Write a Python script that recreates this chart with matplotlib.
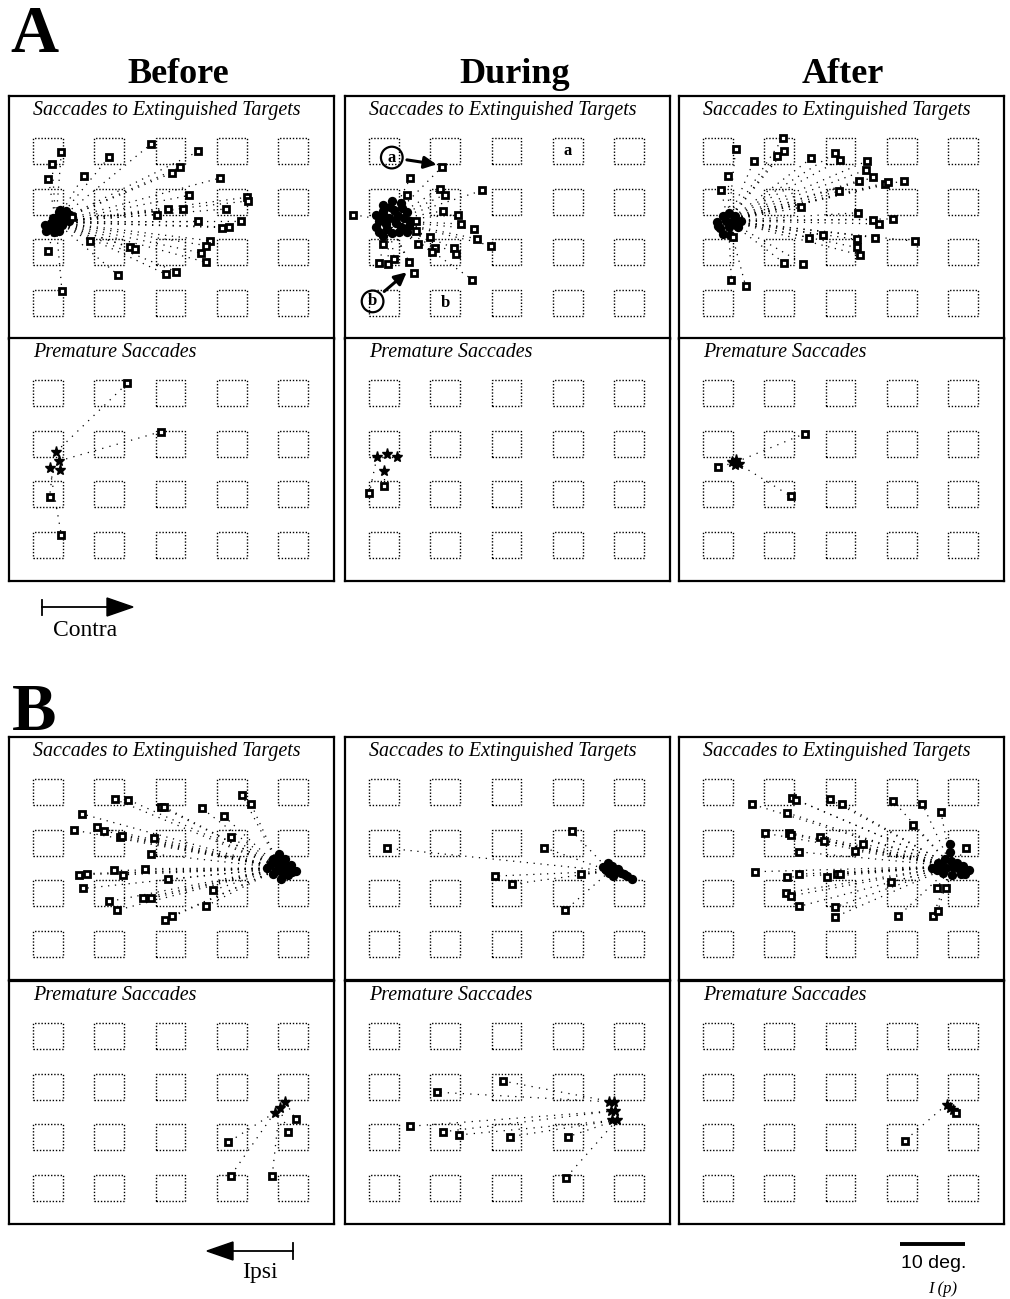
import matplotlib.pyplot as plt
from matplotlib.patches import Rectangle, Circle, Polygon

plt.rcParams["font.family"] = ["Liberation Serif", "DejaVu Serif"]

W, H = 1010, 1299
PX = 6.2          # pixels per degree inside a panel
PW, PH = 325, 243  # panel size in pixels

columns = ["Before", "During", "After"]
target_x = [-19.8, -9.9, 0.0, 9.9, 19.8]
target_y = [12.3, 4.1, -4.1, -12.3]
target_w, target_h = 4.8, 4.2

# ---------------- A : saccades to extinguished targets (deg) ----------------
a_ext_before_fix = (-18.5, 0.8)
a_ext_before_blob = [(-19.8, 0.2), (-19.0, 1.5), (-18.0, 2.5), (-17.0, 1.8), (-16.3, 1.0),
                     (-18.5, 0.0), (-17.5, 0.3), (-20.0, -0.6), (-18.8, -0.8), (-17.8, 2.8),
                     (-16.2, 2.0), (-19.2, 0.7), (-18.2, 1.3), (-17.2, 0.9), (-20.3, 0.4),
                     (-18.0, -0.6), (-16.8, 2.6), (-19.4, -0.2)]
a_ext_before_end = [(-17.6, 12.1), (-19.1, 10.1), (-19.7, 7.8), (-14.0, 8.3), (-9.9, 11.3),
                    (-3.1, 13.4), (4.5, 12.2), (1.5, 9.6), (0.2, 8.7), (8.0, 7.9),
                    (12.4, 4.8), (12.5, 4.2), (3.0, 5.1), (2.0, 2.9), (-0.4, 2.9),
                    (-2.2, 2.0), (9.0, 2.9), (4.4, 0.9), (8.3, -0.1), (9.4, 0.0),
                    (11.3, 0.9), (6.3, -2.2), (5.8, -3.0), (5.0, -4.2), (5.8, -5.7),
                    (0.9, -7.2), (-0.8, -7.6), (-6.6, -3.3), (-5.8, -3.5), (-13.0, -2.2),
                    (-8.4, -7.8), (-19.7, -3.8), (-17.5, -10.4), (-15.9, 1.6)]

a_ext_during_fix = (-19.0, 1.0)
a_ext_during_blob = [(-21.0, 2.0), (-20.0, 3.5), (-18.5, 4.2), (-17.0, 3.8), (-16.0, 2.5),
                     (-15.5, 1.0), (-17.0, 0.0), (-18.5, -1.0), (-20.0, -1.5), (-21.0, 0.0),
                     (-19.0, 1.5), (-17.5, 1.8), (-19.5, 0.5), (-16.0, -0.8), (-20.5, 1.0),
                     (-18.2, 2.8), (-16.6, 1.5), (-19.3, -0.4), (-17.8, 0.6), (-20.0, 2.6),
                     (-18.8, 3.3), (-16.8, 3.0), (-18.0, 1.2), (-19.8, 1.8), (-17.4, -0.8),
                     (-20.6, -0.8), (-15.8, 0.2)]
a_ext_during_end = [(-10.4, 9.7), (-15.5, 7.9), (-16.1, 5.1), (-10.7, 6.2), (-10.0, 5.2),
                    (-3.9, 5.9), (-10.3, 2.6), (-7.9, 2.0), (-24.7, 2.0), (-14.6, 0.9),
                    (-7.3, 0.5), (-5.2, -0.3), (-14.6, -0.6), (-4.8, -1.9), (-2.5, -3.0),
                    (-12.3, -1.6), (-14.3, -2.8), (-11.5, -3.4), (-8.5, -3.4), (-8.1, -4.4),
                    (-12.0, -4.1), (-19.9, -2.8), (-20.5, -5.8), (-19.1, -5.9), (-18.1, -5.2),
                    (-15.7, -5.6), (-15.0, -7.4), (-5.5, -8.5)]

a_ext_after_fix = (-18.1, 1.0)
a_ext_after_blob = [(-20.0, 0.8), (-19.0, 1.8), (-18.0, 2.3), (-17.0, 1.8), (-16.0, 1.0),
                    (-16.5, 0.0), (-18.0, 0.0), (-19.5, -0.2), (-19.0, -1.2), (-17.8, -1.3),
                    (-18.5, 1.0), (-17.3, 0.9), (-19.8, 0.2), (-16.8, 0.4)]
a_ext_after_end = [(-16.9, 12.6), (-9.3, 14.3), (-9.1, 12.3), (-10.2, 11.4), (-14.0, 10.6),
                   (-18.1, 8.2), (-19.3, 6.0), (-4.7, 11.1), (-0.9, 11.9), (-0.1, 10.8),
                   (4.2, 10.6), (4.1, 9.2), (5.3, 8.0), (3.0, 7.5), (7.1, 6.9),
                   (7.6, 7.2), (10.3, 7.5), (-0.2, 5.8), (-6.3, 3.2), (2.8, 2.3),
                   (5.2, 1.2), (6.2, 0.5), (8.5, 1.3), (5.5, -1.7), (12.0, -2.3),
                   (2.6, -2.0), (2.6, -3.3), (3.1, -4.5), (-2.8, -1.3), (-5.1, -1.7),
                   (-9.1, -5.8), (-6.0, -5.9), (-17.6, -8.5), (-15.3, -9.5), (-17.4, -1.6)]

# ---------------- A : premature saccades ----------------
a_pre_before_fix = [(-18.5, 2.7), (-18.0, 1.3), (-19.5, 0.2), (-17.9, -0.1)]
a_pre_before_start = [(-18.5, 2.7), (-18.0, 1.3), (-19.0, 0.0), (-19.2, -1.5)]
a_pre_before_end = [(-7.0, 13.8), (-1.6, 6.0), (-19.5, -4.5), (-17.6, -10.7)]

a_pre_during_fix = [(-20.9, 1.9), (-19.3, 2.4), (-17.6, 2.0), (-19.7, -0.4)]
a_pre_during_start = [(-20.9, 1.9), (-19.7, -0.4)]
a_pre_during_end = [(-22.1, -3.8), (-19.7, -2.8)]

a_pre_after_fix = [(-17.5, 1.2), (-16.8, 1.5), (-16.3, 0.8), (-17.0, 0.6)]
a_pre_after_start = [(-16.9, 1.1), (-16.9, 1.1), (-16.9, 1.1)]
a_pre_after_end = [(-19.7, 0.3), (-5.8, 5.7), (-8.0, -4.4)]

# ---------------- B : saccades to extinguished targets ----------------
b_ext_before_fix = (17.7, 0.0)
b_ext_before_blob = [(15.5, 0.0), (16.5, 1.5), (17.5, 2.2), (18.5, 1.5), (19.5, 0.5),
                     (20.2, -0.5), (19.0, -1.2), (17.8, -1.8), (16.5, -1.0), (17.5, 0.3),
                     (18.5, -0.3), (16.2, 0.6), (17.0, 1.0), (18.0, 1.0), (19.0, 0.3),
                     (17.0, -0.5), (18.2, -1.0), (19.6, -0.6)]
b_ext_before_end = [(11.6, 11.7), (13.0, 10.3), (-9.0, 11.1), (-6.8, 11.0), (-1.5, 9.9),
                    (-1.1, 9.9), (5.1, 9.6), (8.6, 8.4), (-14.2, 8.7), (-15.5, 6.1),
                    (-11.9, 6.6), (-10.8, 6.0), (-8.1, 5.0), (-7.8, 5.2), (-2.7, 4.9),
                    (9.7, 5.0), (-3.2, 2.3), (-4.1, -0.1), (-14.8, -1.1), (-13.5, -0.9),
                    (-9.1, -0.4), (-7.7, -1.1), (-0.4, -1.8), (-14.1, -3.3), (-9.9, -5.4),
                    (-8.6, -6.8), (-4.5, -4.9), (-3.1, -4.9), (6.8, -3.6), (5.8, -6.1),
                    (0.3, -7.7), (-0.9, -8.4)]

b_ext_during_fix = (16.7, -0.5)
b_ext_during_blob = [(15.5, 0.2), (16.3, 0.8), (17.0, 0.3), (17.5, -0.5), (16.5, -0.8),
                     (18.5, -0.8), (19.5, -1.3), (20.3, -1.7), (17.2, -1.3), (16.0, -0.3),
                     (18.0, -0.2), (19.0, -1.0)]
b_ext_during_end = [(-19.3, 3.2), (10.5, 6.0), (6.0, 3.3), (12.0, -1.0), (-1.8, -1.3),
                    (0.9, -2.6), (9.5, -6.8)]

b_ext_after_fix = (17.9, 0.3)
b_ext_after_blob = [(14.8, 0.0), (15.8, 0.8), (16.8, 1.5), (17.8, 1.2), (18.8, 0.8),
                    (19.8, 0.3), (20.8, -0.3), (19.5, -1.0), (18.0, -1.2), (16.5, -0.8),
                    (17.6, 2.5), (17.7, 3.8), (19.0, 0.0), (17.0, 0.0), (15.6, -0.4),
                    (18.2, 0.2), (20.0, -0.9), (16.2, 0.3)]
b_ext_after_end = [(-14.3, 10.3), (-7.9, 11.3), (-7.1, 11.0), (-8.6, 8.9), (-1.7, 11.1),
                   (0.3, 10.3), (8.5, 10.8), (13.2, 10.3), (16.2, 9.0), (11.7, 6.9),
                   (-12.1, 5.6), (-8.3, 5.7), (-8.0, 5.4), (-3.3, 5.0), (-2.6, 4.4),
                   (-6.7, 2.6), (2.3, 2.8), (3.7, 3.9), (20.3, 3.2), (-13.8, -0.6),
                   (-8.6, -1.5), (-6.7, -1.0), (-2.1, -1.4), (-0.6, -1.0), (-0.1, -0.9),
                   (8.1, -2.3), (15.5, -3.3), (17.0, -3.3), (-8.8, -4.0), (-8.0, -4.5),
                   (-6.7, -6.2), (-0.9, -6.3), (-0.9, -7.9), (9.3, -7.8), (14.9, -7.8),
                   (15.7, -6.9)]

# ---------------- B : premature saccades ----------------
b_pre_before_fix = [(18.5, 1.6), (17.6, 0.7), (16.8, -0.1)]
b_pre_before_start = [(18.5, 1.6), (17.6, 0.7), (16.8, -0.1), (16.8, -0.1), (17.6, 0.7)]
b_pre_before_end = [(20.2, -1.1), (18.9, -3.2), (9.3, -4.9), (9.7, -10.3), (16.4, -10.3)]

b_pre_during_fix = [(17.3, 1.6), (17.5, 0.2), (17.8, -1.3), (16.6, 1.6), (16.8, 0.2), (17.0, -1.3)]
b_pre_during_start = [(17.3, 1.6), (17.3, 1.6), (17.5, 0.2), (17.5, 0.2), (17.8, -1.3),
                      (17.8, -1.3), (17.8, -1.3), (17.8, -1.3)]
b_pre_during_end = [(-0.6, 5.0), (-11.2, 3.2), (-15.6, -2.3), (-10.3, -3.2), (-7.7, -3.7),
                    (0.5, -4.0), (9.9, -4.0), (9.6, -10.6)]

b_pre_after_fix = [(17.1, 1.2), (17.6, 0.6), (18.2, 0.3)]
b_pre_after_start = [(17.1, 1.2), (17.1, 1.2)]
b_pre_after_end = [(18.7, -0.1), (10.4, -4.6)]

# panel placement in pixels
panel_left = [9, 345, 679]
panel_top = [96, 338, 737, 981]

fig = plt.figure(figsize=(W / 100, H / 100), dpi=100)
over = fig.add_axes([0, 0, 1, 1])
over.set_xlim(0, W)
over.set_ylim(H, 0)
over.axis("off")


def make_panel(left, top, title):
    ax = fig.add_axes([left / W, 1 - (top + PH) / H, PW / W, PH / H])
    ax.set_xlim(-161.5 / PX, (PW - 161.5) / PX)
    ax.set_ylim(-(PH - 131) / PX, 131 / PX)
    ax.set_xticks([])
    ax.set_yticks([])
    for s in ax.spines.values():
        s.set_linewidth(1.6)
    for tx in target_x:
        for ty in target_y:
            ax.add_patch(Rectangle((tx - target_w / 2, ty - target_h / 2), target_w, target_h,
                                   fill=False, ec="k", lw=1.0, ls=(0, (1, 1.3))))
    ax.text(0.074, 0.942, title, transform=ax.transAxes, style="italic",
            fontsize=14.4, ha="left", va="center")
    return ax


def draw_ends(ax, ends):
    ex, ey = zip(*ends)
    ax.plot(ex, ey, ls="none", marker="s", ms=4.8, mfc="white", mec="k", mew=2.0, zorder=4)


def draw_ext(ax, fix, blob, ends):
    for ex, ey in ends:
        ax.plot([fix[0], ex], [fix[1], ey], color="k", lw=0.9, ls=(0, (1, 4.5)))
    bx, by = zip(*blob)
    ax.scatter(bx, by, s=45, c="k", lw=0, zorder=3)
    draw_ends(ax, ends)


def draw_pre(ax, fix, starts, ends):
    for (sx, sy), (ex, ey) in zip(starts, ends):
        ax.plot([sx, ex], [sy, ey], color="k", lw=0.9, ls=(0, (1, 5)))
    fx, fy = zip(*fix)
    ax.plot(fx, fy, ls="none", marker="*", ms=8, color="k", zorder=3)
    draw_ends(ax, ends)


ext_sets = [
    [(a_ext_before_fix, a_ext_before_blob, a_ext_before_end),
     (a_ext_during_fix, a_ext_during_blob, a_ext_during_end),
     (a_ext_after_fix, a_ext_after_blob, a_ext_after_end)],
    [(b_ext_before_fix, b_ext_before_blob, b_ext_before_end),
     (b_ext_during_fix, b_ext_during_blob, b_ext_during_end),
     (b_ext_after_fix, b_ext_after_blob, b_ext_after_end)],
]
pre_sets = [
    [(a_pre_before_fix, a_pre_before_start, a_pre_before_end),
     (a_pre_during_fix, a_pre_during_start, a_pre_during_end),
     (a_pre_after_fix, a_pre_after_start, a_pre_after_end)],
    [(b_pre_before_fix, b_pre_before_start, b_pre_before_end),
     (b_pre_during_fix, b_pre_during_start, b_pre_during_end),
     (b_pre_after_fix, b_pre_after_start, b_pre_after_end)],
]

for part in range(2):
    for c in range(3):
        ax = make_panel(panel_left[c], panel_top[2 * part], "Saccades to Extinguished Targets")
        draw_ext(ax, *ext_sets[part][c])
        if part == 0 and c == 1:
            # labelled examples a and b
            for lab, circ, tip, tgt in [("a", (-18.5, 11.2), (-11.3, 10.1), (9.9, 12.3)),
                                        ("b", (-21.6, -12.0), (-16.1, -7.3), (-9.9, -12.3))]:
                ax.add_patch(Circle(circ, 1.75, fill=False, ec="k", lw=1.6, zorder=5))
                ax.text(circ[0], circ[1], lab, fontsize=12, weight="bold", ha="center",
                        va="center", zorder=6)
                ax.annotate("", xy=tip, xytext=circ,
                            arrowprops=dict(arrowstyle="-|>", lw=2.2, color="k",
                                            mutation_scale=18, shrinkA=11, shrinkB=0))
                ax.text(tgt[0], tgt[1], lab, fontsize=12, weight="bold", ha="center",
                        va="center")
        ax2 = make_panel(panel_left[c], panel_top[2 * part + 1], "Premature Saccades")
        draw_pre(ax2, *pre_sets[part][c])

# panel letters and column headings
fig.text(10 / W, 1 - 52 / H, "A", fontsize=48, weight="bold", ha="left", va="baseline")
fig.text(12 / W, 1 - 730 / H, "B", fontsize=48, weight="bold", ha="left", va="baseline")
for name, x in zip(columns, [178, 515, 843]):
    fig.text(x / W, 1 - 83 / H, name, fontsize=26, weight="bold", ha="center", va="baseline")

# direction arrows
over.plot([42, 110], [607, 607], color="k", lw=1.3)
over.plot([42, 42], [600, 615], color="k", lw=1.3)
over.add_patch(Polygon([(107, 598), (133, 607), (107, 616)], closed=True, color="k"))
fig.text(85 / W, 1 - 636 / H, "Contra", fontsize=17, ha="center", va="baseline")

over.plot([230, 293], [1251, 1251], color="k", lw=1.3)
over.plot([293, 293], [1243, 1259], color="k", lw=1.3)
over.add_patch(Polygon([(233, 1242), (207, 1251), (233, 1260)], closed=True, color="k"))
fig.text(260 / W, 1 - 1278 / H, "Ipsi", fontsize=17, ha="center", va="baseline")

# scale bar
over.plot([900, 965], [1244, 1244], color="k", lw=2.8, solid_capstyle="butt")
fig.text(934 / W, 1 - 1268 / H, "10 deg.", fontsize=14, family="Liberation Sans",
         ha="center", va="baseline")
fig.text(943 / W, 1 - 1293 / H, "I (p)", fontsize=12, style="italic", ha="center", va="baseline")

fig.savefig("out.png", dpi=100)
